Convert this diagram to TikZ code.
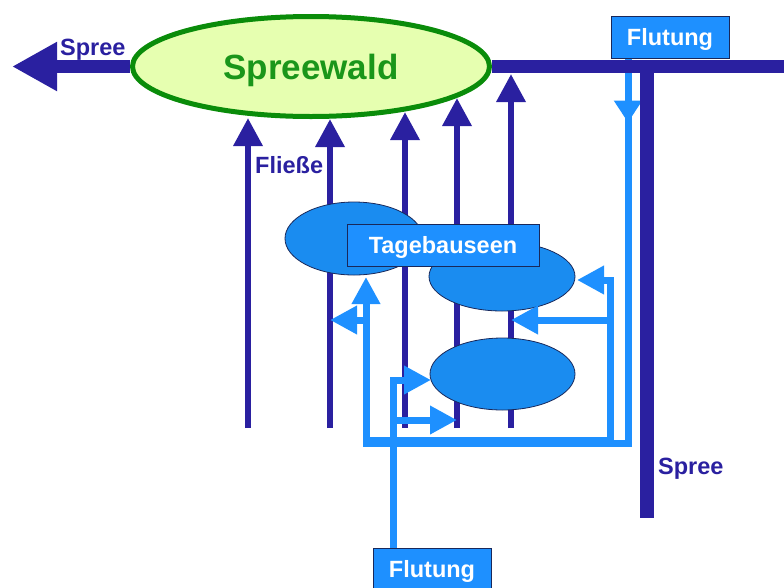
\documentclass[tikz,border=0pt]{standalone}
\usepackage{fontspec}
\setmainfont{Liberation Sans}
\usetikzlibrary{arrows.meta,shapes.geometric,decorations.markings}
\definecolor{dkblue}{RGB}{42,32,160}
\definecolor{ltblue}{RGB}{30,144,255}
\definecolor{lakeblue}{RGB}{26,140,240}
\definecolor{edge}{RGB}{25,40,90}
\definecolor{grn}{RGB}{10,140,10}
\definecolor{lgrn}{RGB}{230,255,176}
\definecolor{txtgrn}{RGB}{26,150,26}
\tikzset{
  lblfont/.style={font=\bfseries\fontsize{23.5}{26}\selectfont},
  river/.style={draw=dkblue, line width=6.5pt},
  riverarrow/.style={river, -{Triangle[width=28pt,length=28pt]}},
  mainriver/.style={draw=dkblue, line width=13.5pt},
  flow/.style={draw=ltblue, line width=7pt},
  flowarrow/.style={flow, -{Triangle[width=27pt,length=27pt]}},
  lake/.style={ellipse, draw=edge, line width=0.8pt, fill=lakeblue, inner sep=0pt},
  labelbox/.style={rectangle, draw=edge, line width=1pt, fill=ltblue, text=white, lblfont,
    minimum width=118pt, minimum height=42pt, inner sep=0pt, text height=17pt, text depth=0pt},
  lbl/.style={text=dkblue, lblfont, inner sep=0pt, anchor=base west}
}
\begin{document}
\begin{tikzpicture}[x=1pt,y=-1pt]
\useasboundingbox (0,0) rectangle (784,587);
% river coordinates
\coordinate (f1b) at (248,428); \coordinate (f1t) at (248,118);
\coordinate (f2b) at (330,428); \coordinate (f2t) at (330,119);
\coordinate (f3b) at (405,428); \coordinate (f3t) at (405,112);
\coordinate (f4b) at (457,428); \coordinate (f4t) at (457,98);
\coordinate (f5b) at (511,428); \coordinate (f5t) at (511,74);
\coordinate (spreeL) at (12,66.5);
\coordinate (spreeR) at (790,66.5);
\coordinate (junc) at (647,66.5);
\coordinate (spreeS) at (647,518);
% Fliesse
\foreach \i in {1,...,5} \draw[riverarrow] (f\i b) -- (f\i t);
% Spreewald
\node[ellipse, draw=grn, line width=5pt, fill=lgrn, minimum width=357pt, minimum height=100pt,
  inner sep=0pt, text=txtgrn, font=\bfseries\fontsize{35}{38}\selectfont,
  text height=25pt, text depth=0pt] (sw) at (311,66.5) {Spreewald};
\draw[mainriver, -{Triangle[width=46pt,length=45pt]}] (sw.west) -- (spreeL);
% labels
\node[lbl] (lspree) at (60,55) {Spree};
\node[lbl] (lfl) at (255,173) {Flie\ss e};
\node[lbl] (lspree2) at (658,474) {Spree};
% lakes
\node[lake, minimum width=138pt, minimum height=73pt] (lake1) at (354,238.5) {};
\node[lake, minimum width=146pt, minimum height=69pt] (lake2) at (502,276.5) {};
\node[lake, minimum width=145pt, minimum height=72pt] (lake3) at (502.5,374) {};
\node[labelbox, minimum width=192pt] (tb) at (443,245) {Tagebauseen};
% Flutung boxes
\node[labelbox] (ftop) at (670,37) {Flutung};
\node[labelbox] (fbot) at (432,569) {Flutung};
% flow coordinates
\coordinate (ox) at (628,443);
\coordinate (t1) at (366,277);
\coordinate (ix) at (610,440);
\coordinate (y320) at (0,320);
\coordinate (y420) at (0,420);
\coordinate (fx) at (393,380);
\coordinate (l3in) at (431,380);
\coordinate (l2in) at (577,280);
% outer flow from top Flutung
\draw[flowarrow, postaction={decorate}, decoration={markings,
  mark=at position 64pt with {\arrow[ltblue]{Triangle[width=27pt,length=22pt]}}}]
  (ftop.south -| ox) -- (ox) -- (ox -| t1) -- (t1);
\draw[flowarrow] (t1 |- ix) -- (ix) -- (ix |- l2in) -- (l2in);
\draw[flowarrow] (ix |- y320) -- (f5b |- y320);
\draw[flowarrow] (t1 |- y320) -- (f2b |- y320);
% bottom flow
\draw[flowarrow] (fbot.north -| fx) -- (fx) -- (l3in);
\draw[flowarrow] (fx |- y420) -- (f4b |- y420);
% main Spree right part
\draw[mainriver] (sw.east) -- (spreeR);
\draw[mainriver] (junc) -- (spreeS);
\end{tikzpicture}
\end{document}
